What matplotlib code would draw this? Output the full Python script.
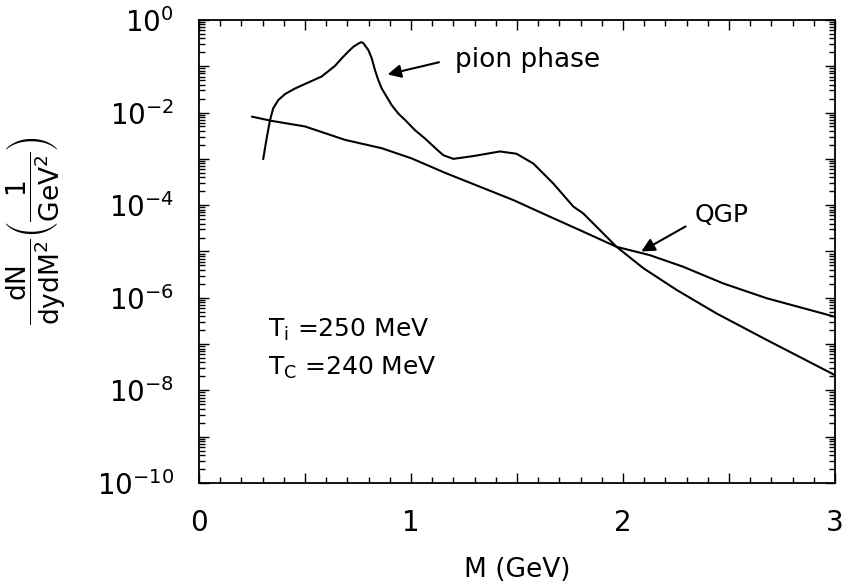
import numpy as np
import matplotlib
matplotlib.use("Agg")
import matplotlib.pyplot as plt
from matplotlib.ticker import LogLocator, MultipleLocator, FuncFormatter, NullFormatter

plt.rcParams["font.family"] = ["DejaVu Sans"]
plt.rcParams["mathtext.fontset"] = "dejavusans"

# pion phase curve (M in GeV, log10 of dN/dydM^2)
pion_m = [0.303, 0.319, 0.335, 0.350, 0.374, 0.406, 0.453, 0.516, 0.579, 0.642,
          0.673, 0.705, 0.728, 0.752, 0.765, 0.775, 0.799, 0.815, 0.830, 0.846,
          0.862, 0.909, 0.940, 0.972, 1.019, 1.066, 1.113, 1.152, 1.200, 1.294,
          1.420, 1.498, 1.577, 1.671, 1.766, 1.813, 1.970, 2.096, 2.253, 2.442,
          2.678, 3.000]
pion_log10 = [-3.00, -2.56, -2.16, -1.91, -1.73, -1.60, -1.48, -1.35, -1.22, -0.99,
              -0.83, -0.68, -0.58, -0.51, -0.48, -0.50, -0.65, -0.83, -1.08, -1.30,
              -1.48, -1.84, -2.02, -2.16, -2.38, -2.56, -2.76, -2.92, -3.00, -2.94,
              -2.84, -2.89, -3.10, -3.53, -4.03, -4.18, -4.90, -5.36, -5.83, -6.34,
              -6.91, -7.67]

# QGP curve
qgp_m = [0.251, 0.343, 0.500, 0.689, 0.862, 1.003, 1.160, 1.483, 1.656, 1.797,
         1.970, 2.127, 2.284, 2.473, 2.678, 3.000]
qgp_log10 = [-2.09, -2.18, -2.30, -2.59, -2.77, -2.99, -3.30, -3.89, -4.25, -4.54,
             -4.90, -5.08, -5.33, -5.69, -6.01, -6.41]

fig = plt.figure(figsize=(8.49, 5.85), dpi=100)
ax = fig.add_axes([0.2344, 0.1744, 0.749, 0.7915])

ax.plot(pion_m, 10 ** np.array(pion_log10), color="black", lw=1.5)
ax.plot(qgp_m, 10 ** np.array(qgp_log10), color="black", lw=1.5)

ax.set_yscale("log")
ax.set_xlim(0, 3)
ax.set_ylim(1e-10, 1e0)

# ticks on all sides, pointing in
ax.yaxis.set_major_locator(LogLocator(base=10, numticks=20))
ax.yaxis.set_minor_locator(LogLocator(base=10, subs=np.arange(2, 10), numticks=20))
ax.yaxis.set_major_formatter(FuncFormatter(
    lambda v, p: r"$\mathdefault{10^{%d}}$" % round(np.log10(v)) if round(np.log10(v)) % 2 == 0 else ""))
ax.yaxis.set_minor_formatter(NullFormatter())
ax.xaxis.set_major_locator(MultipleLocator(0.5))
ax.xaxis.set_minor_locator(MultipleLocator(0.1))
ax.xaxis.set_major_formatter(FuncFormatter(
    lambda v, p: "%d" % round(v) if abs(v - round(v)) < 1e-6 else ""))
ax.tick_params(which="both", direction="in", top=True, right=True, width=1.0)
ax.tick_params(which="major", length=7)
ax.tick_params(which="minor", length=4)
ax.tick_params(axis="x", which="major", labelsize=20, pad=19)
ax.tick_params(axis="y", which="major", labelsize=20, pad=18)
for s in ax.spines.values():
    s.set_linewidth(1.3)

ax.set_xlabel("M (GeV)", fontsize=19, labelpad=14)
ax.set_ylabel(r"$\dfrac{\mathrm{dN}}{\mathrm{dydM^2}}\left(\dfrac{\mathrm{1}}{\mathrm{GeV^2}}\right)$",
              fontsize=19)
ax.yaxis.set_label_coords(-0.207, 0.546)

ax.text(1.208, 10 ** -1.01, "pion phase", fontsize=19, va="baseline")
ax.annotate("", xy=(0.877, 10 ** -1.19), xytext=(1.145, 10 ** -0.90),
            arrowprops=dict(arrowstyle="-|>", color="black", lw=1.5, mutation_scale=20))
ax.text(2.34, 10 ** -4.36, "QGP", fontsize=18, va="baseline")
ax.annotate("", xy=(2.075, 10 ** -5.03), xytext=(2.307, 10 ** -4.43),
            arrowprops=dict(arrowstyle="-|>", color="black", lw=1.5, mutation_scale=20))

ax.text(0.325, 10 ** -6.85, r"$\mathrm{T_i}$ =250 MeV", fontsize=18, va="baseline")
ax.text(0.325, 10 ** -7.67, r"$\mathrm{T_C}$ =240 MeV", fontsize=18, va="baseline")

fig.savefig("out.png", dpi=100)
